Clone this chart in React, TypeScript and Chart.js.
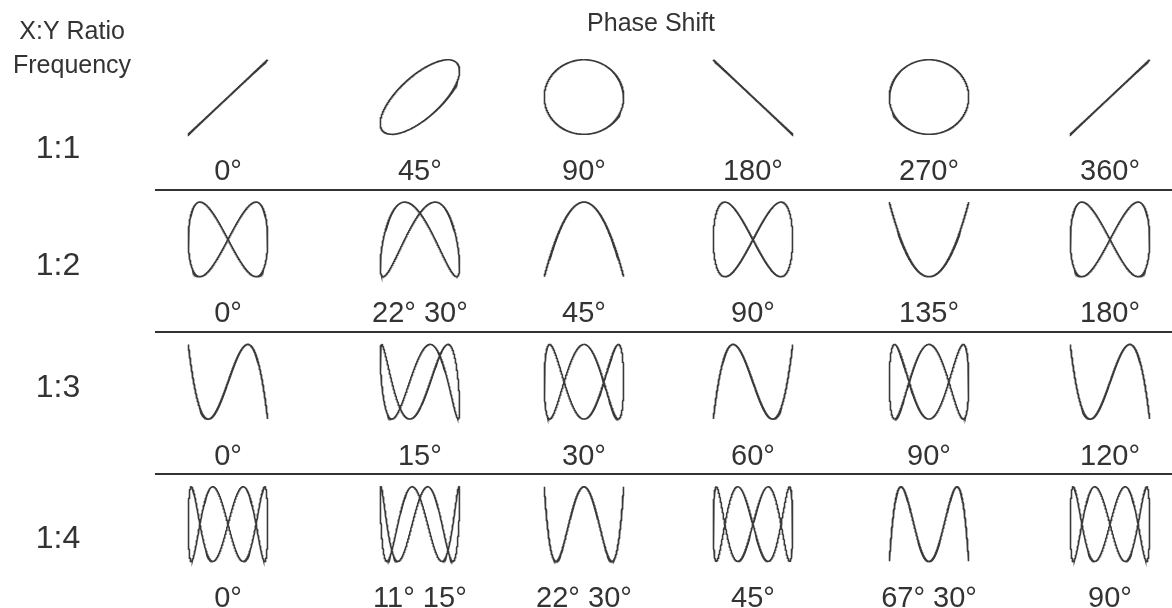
import React, { useEffect, useRef } from 'react';
import { Chart, registerables } from 'chart.js';

Chart.register(...registerables);

// ---------- DATA ----------
const ratioLabels = ['1:1', '1:2', '1:3', '1:4'];
const yFrequency = [1, 2, 3, 4];

const phase11 = [0, 45, 90, 180, 270, 360];
const phase12 = [0, 22.5, 45, 90, 135, 180];
const phase13 = [0, 15, 30, 60, 90, 120];
const phase14 = [0, 11.25, 22.5, 45, 67.5, 90];

const phaseText11 = ['0°', '45°', '90°', '180°', '270°', '360°'];
const phaseText12 = ['0°', '22° 30°', '45°', '90°', '135°', '180°'];
const phaseText13 = ['0°', '15°', '30°', '60°', '90°', '120°'];
const phaseText14 = ['0°', '11° 15°', '22° 30°', '45°', '67° 30°', '90°'];

const headerRatio = ['X:Y Ratio', 'Frequency'];
const headerPhase = 'Phase Shift';

const phaseRows = [phase11, phase12, phase13, phase14];
const phaseTextRows = [phaseText11, phaseText12, phaseText13, phaseText14];

// ---------- LAYOUT (scale units) ----------
const COL_POS = [0, 1.088, 2.018, 2.976, 3.974, 5];
const X_MIN = -1.2925;
const X_MAX = 5.3515;
const Y_MIN = -0.6815;
const Y_MAX = 3.59;
const HALF_W = 0.225;
const HALF_H = 0.262;
const SAMPLES = 720;

const ROW_LABEL_X = -0.964;
const ROW_LABEL_DY = [0.429, 0.251, 0.107, 0.165];
const PHASE_LABEL_DY = 0.583;
const SEPARATOR_DY = 0.652;
const SEPARATOR_X0 = -0.414;
const HEADER_X = -0.884;
const HEADER_Y = [-0.404, -0.169];
const PHASE_HEADER_X = 2.398;
const PHASE_HEADER_Y = -0.464;

const INK = '#3a3a3a';
const TEXT = '#333333';
const FONT = '"Liberation Sans", Arial, Helvetica, sans-serif';

function buildDatasets() {
  const sets: any[] = [];
  phaseRows.forEach((phases, r) => {
    const n = yFrequency[r];
    phases.forEach((deg, c) => {
      const phi = (deg * Math.PI) / 180;
      const pts: { x: number; y: number }[] = [];
      for (let k = 0; k <= SAMPLES; k++) {
        const t = (k / SAMPLES) * 2 * Math.PI;
        pts.push({
          x: COL_POS[c] + HALF_W * Math.sin(t),
          y: r - HALF_H * Math.sin(n * t + n * phi),
        });
      }
      sets.push({
        label: `${ratioLabels[r]} ${phaseTextRows[r][c]}`,
        data: pts,
        showLine: true,
        pointRadius: 0,
        pointHoverRadius: 0,
        borderColor: INK,
        borderWidth: 1.6,
        fill: false,
        tension: 0,
      });
    });
  });
  return sets;
}

const decorPlugin = {
  id: 'lissajousDecor',
  afterDraw(chart: any) {
    const { ctx, scales } = chart;
    const xs = scales.x;
    const ys = scales.y;
    const px = (v: number) => xs.getPixelForValue(v);
    const py = (v: number) => ys.getPixelForValue(v);
    ctx.save();

    // separators
    ctx.strokeStyle = '#333';
    ctx.lineWidth = 2;
    for (let r = 0; r < ratioLabels.length - 1; r++) {
      const y = Math.round(py(r + SEPARATOR_DY)) + 0.0;
      ctx.beginPath();
      ctx.moveTo(px(SEPARATOR_X0), y);
      ctx.lineTo(px(X_MAX), y);
      ctx.stroke();
    }

    ctx.fillStyle = TEXT;
    ctx.textBaseline = 'alphabetic';
    ctx.textAlign = 'center';

    // headers
    ctx.font = `25px ${FONT}`;
    headerRatio.forEach((t, i) => ctx.fillText(t, px(HEADER_X), py(HEADER_Y[i])));
    ctx.font = `25px ${FONT}`;
    ctx.fillText(headerPhase, px(PHASE_HEADER_X), py(PHASE_HEADER_Y));

    // row labels
    ctx.font = `32px ${FONT}`;
    ratioLabels.forEach((t, r) => ctx.fillText(t, px(ROW_LABEL_X), py(r + ROW_LABEL_DY[r])));

    // phase labels
    ctx.font = `29px ${FONT}`;
    phaseTextRows.forEach((row, r) => {
      row.forEach((t, c) => ctx.fillText(t, px(COL_POS[c]), py(r + PHASE_LABEL_DY)));
    });

    ctx.restore();
  },
};

export default function App() {
  const ref = useRef<HTMLCanvasElement | null>(null);
  useEffect(() => {
    if (!ref.current) return;
    const chart = new Chart(ref.current, {
      type: 'scatter',
      data: { datasets: buildDatasets() },
      options: {
        responsive: false,
        animation: false,
        devicePixelRatio: 1,
        layout: { padding: 0 },
        plugins: { legend: { display: false }, tooltip: { enabled: false }, title: { display: false } },
        events: [],
        scales: {
          x: { type: 'linear', display: false, min: X_MIN, max: X_MAX },
          y: { type: 'linear', display: false, min: Y_MIN, max: Y_MAX, reverse: true },
        },
      },
      plugins: [decorPlugin],
    } as any);
    return () => chart.destroy();
  }, []);
  return (
    <div style={{ position: 'absolute', left: 0, top: 0, width: 1172, height: 608, background: '#fff' }}>
      <canvas ref={ref} width={1172} height={608} style={{ display: 'block' }} />
    </div>
  );
}
